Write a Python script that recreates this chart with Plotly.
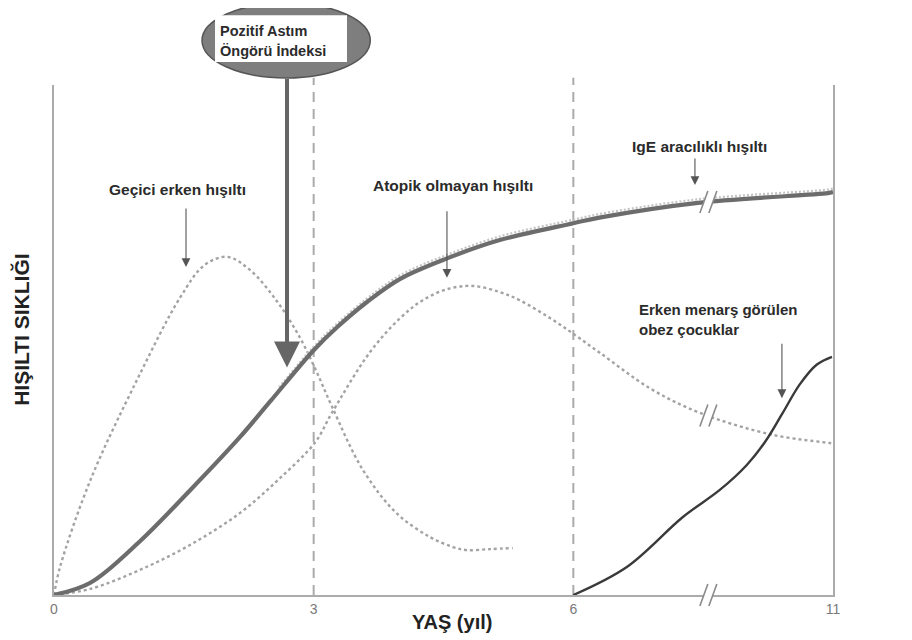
import numpy as np
import plotly.graph_objects as go

# ---------------- data (age in years, wheezing frequency 0-100) ----------------
total_age = [0, 0.42, 0.99, 1.57, 2.15, 2.5, 3.0, 3.27, 3.62, 4.0, 4.54, 5.15, 6.0, 6.5, 8.4, 10.9, 11.0]
total_val = [0, 2.4, 10.5, 20.5, 31.0, 38.0, 48.0, 52.5, 57.5, 62.0, 66.0, 69.6, 72.9, 74.0, 76.9, 78.8, 79.0]

ige_age = [2.6, 3.0, 3.27, 3.62, 4.0, 4.54, 5.15, 6.0, 6.5, 8.4, 10.9, 11.0]
ige_val = [40.7, 48.7, 53.2, 58.2, 62.7, 66.7, 70.3, 73.6, 74.7, 77.6, 79.5, 79.7]

transient_age = [0, 0.07, 0.42, 0.96, 1.46, 1.74, 2.0, 2.26, 2.58, 2.84, 3.02, 3.21, 3.57, 3.96, 4.34, 4.61, 4.77, 5.04, 5.3]
transient_val = [0, 5.5, 22.5, 42.2, 58.4, 64.7, 66.3, 63.8, 57.5, 50.5, 44.3, 37.0, 24.5, 16.0, 11.4, 9.4, 8.8, 9.0, 9.2]

atopic_age = [0, 0.42, 0.99, 1.57, 2.15, 2.61, 3.02, 3.21, 3.65, 4.0, 4.26, 4.55, 4.84, 5.15, 5.38, 5.73, 6.03, 6.51, 7.48, 8.44, 9.84, 10.94, 11.0]
atopic_val = [0, 1.2, 4.9, 9.8, 16.1, 22.9, 30.0, 35.7, 47.6, 54.3, 57.8, 60.0, 60.6, 59.4, 57.8, 54.3, 51.0, 47.5, 40.5, 35.7, 31.4, 29.8, 29.7]

obese_age = [6.0, 7.03, 8.11, 8.82, 9.34, 9.69, 10.02, 10.36, 10.69, 10.98]
obese_val = [0, 5.5, 15.3, 20.6, 25.5, 30.0, 35.5, 41.3, 45.2, 46.7]

tick_ages = [0, 3, 6, 11]
tick_labels = ["0", "3", "6", "11"]
guide_ages = [3, 6]
break_age = 8.6


# broken axis: 6-11 years compressed into 3 display units
def to_disp(age):
    a = np.asarray(age, dtype=float)
    return np.where(a <= 6, a, 6 + (a - 6) * 3.0 / 5.0)


FONT = "Liberation Sans, Arial, sans-serif"
TXT = "#2b2b2b"
AX = "#ababab"

fig = go.Figure()

fig.add_trace(go.Scatter(x=to_disp(transient_age), y=transient_val, mode="lines",
                         line=dict(color="#a3a3a3", width=2.4, dash="3px,3px", shape="spline", smoothing=1.0),
                         hoverinfo="skip", showlegend=False))
fig.add_trace(go.Scatter(x=to_disp(atopic_age), y=atopic_val, mode="lines",
                         line=dict(color="#a3a3a3", width=2.4, dash="3px,3px", shape="spline", smoothing=1.0),
                         hoverinfo="skip", showlegend=False))
fig.add_trace(go.Scatter(x=to_disp(ige_age), y=ige_val, mode="lines",
                         line=dict(color="#c4c4c4", width=2.2, dash="2px,2px", shape="spline", smoothing=1.0),
                         hoverinfo="skip", showlegend=False))
fig.add_trace(go.Scatter(x=to_disp(total_age), y=total_val, mode="lines",
                         line=dict(color="#6c6c6c", width=4.2, shape="spline", smoothing=1.0),
                         hoverinfo="skip", showlegend=False))
fig.add_trace(go.Scatter(x=to_disp(obese_age), y=obese_val, mode="lines",
                         line=dict(color="#3a3a3a", width=2.4, shape="spline", smoothing=1.0),
                         hoverinfo="skip", showlegend=False))

shapes = []
# vertical dashed guides
for g in guide_ages:
    shapes.append(dict(type="line", xref="x", yref="paper", x0=float(to_disp(g)), x1=float(to_disp(g)),
                       y0=0, y1=1.014, line=dict(color=AX, width=2, dash="10px,7px"), layer="below"))


def add_break(xd, yref, yv):
    half_h, lean, gap = 11, 4, 4.5
    path = (f"M{-gap - lean},{-half_h} L{-gap + lean},{half_h} "
            f"L{gap + lean},{half_h} L{gap - lean},{-half_h} Z")
    shapes.append(dict(type="path", xref="x", yref=yref, xsizemode="pixel", ysizemode="pixel",
                       xanchor=xd, yanchor=yv, path=path, fillcolor="white",
                       line=dict(width=0), layer="above"))
    for off in (-gap, gap):
        shapes.append(dict(type="line", xref="x", yref=yref, xsizemode="pixel", ysizemode="pixel",
                           xanchor=xd, yanchor=yv, x0=off - lean, y0=-half_h, x1=off + lean, y1=half_h,
                           line=dict(color="#8a8a8a", width=1.6), layer="above"))


bx = float(to_disp(break_age))
add_break(bx, "y", float(np.interp(break_age, total_age, total_val)))
add_break(bx, "y", float(np.interp(break_age, atopic_age, atopic_val)))
add_break(bx, "paper", 0.0)

# ellipse "Pozitif Astım Öngörü İndeksi"
shapes.append(dict(type="circle", xref="paper", yref="paper", x0=0.190, x1=0.406, y0=1.0137, y1=1.1608,
                   fillcolor="#7e7e7e", line=dict(color="#555555", width=1.5), layer="above"))
shapes.append(dict(type="rect", xref="paper", yref="paper", x0=0.2067, x1=0.3761, y0=1.045, y1=1.137,
                   fillcolor="white", line=dict(width=0), layer="above"))

annotations = []
annotations.append(dict(x=2.692, y=44.6, xref="x", yref="y", ax=0, ay=-290, axref="pixel", ayref="pixel",
                        text="", showarrow=True, arrowhead=2, arrowsize=1.3, arrowwidth=4,
                        arrowcolor="#666666", standoff=0))
annotations.append(dict(x=0.211, y=1.1059, xref="paper", yref="paper", xanchor="left", yanchor="middle",
                        text="<b>Pozitif Astım</b>", showarrow=False,
                        font=dict(family=FONT, size=14.5, color=TXT)))
annotations.append(dict(x=0.211, y=1.0667, xref="paper", yref="paper", xanchor="left", yanchor="middle",
                        text="<b>Öngörü İndeksi</b>", showarrow=False,
                        font=dict(family=FONT, size=14.5, color=TXT)))

labels = [
    ("Geçici erken hışıltı", 1.421, 79.6),
    ("Atopik olmayan hışıltı", 4.609, 80.2),
    ("IgE aracılıklı hışıltı", 7.463, 88.0),
]
for t, xx, yy in labels:
    annotations.append(dict(x=xx, y=yy, xref="x", yref="y", text=f"<b>{t}</b>", showarrow=False,
                            xanchor="center", yanchor="middle", font=dict(family=FONT, size=15.5, color=TXT)))
annotations.append(dict(x=6.735, y=54.1, xref="x", yref="y", xanchor="left", yanchor="middle", align="left",
                        text="<b>Erken menarş görülen</b><br><b>obez çocuklar</b>", showarrow=False,
                        font=dict(family=FONT, size=15, color=TXT)))

small_arrows = [(1.525, 64.3, -60), (4.540, 62.2, -68), (7.405, 80.4, -28), (8.410, 38.6, -56)]
for xx, yy, ay in small_arrows:
    annotations.append(dict(x=xx, y=yy, xref="x", yref="y", ax=0, ay=ay, axref="pixel", ayref="pixel",
                            text="", showarrow=True, arrowhead=2, arrowsize=1.6, arrowwidth=1.1,
                            arrowcolor="#555555", standoff=0))

annotations.append(dict(x=-0.041, y=0.52, xref="paper", yref="paper", text="<b>HIŞILTI SIKLIĞI</b>",
                        textangle=-90, showarrow=False, xanchor="center", yanchor="middle",
                        font=dict(family=FONT, size=21, color="#222222")))
annotations.append(dict(x=0.511, y=-0.053, xref="paper", yref="paper", text="<b>YAŞ (yıl)</b>",
                        showarrow=False, xanchor="center", yanchor="middle",
                        font=dict(family=FONT, size=20, color="#222222")))

# page body has an 8px margin: figure is 904x632 so the plot lands where the reference has it
fig.update_layout(
    width=904, height=632,
    margin=dict(l=46, r=79, t=77, b=45),
    paper_bgcolor="white", plot_bgcolor="white",
    shapes=shapes, annotations=annotations,
    xaxis=dict(range=[0, 9], tickvals=[float(v) for v in to_disp(tick_ages)], ticktext=tick_labels,
               showgrid=False, zeroline=False, showline=True, linecolor=AX, linewidth=2,
               ticks="", tickfont=dict(family=FONT, size=14, color="#7a7a7a")),
    yaxis=dict(range=[0, 100], showticklabels=False, showgrid=False, zeroline=False,
               showline=True, mirror=True, linecolor=AX, linewidth=2, ticks=""),
)

fig.write_html("out.html")
